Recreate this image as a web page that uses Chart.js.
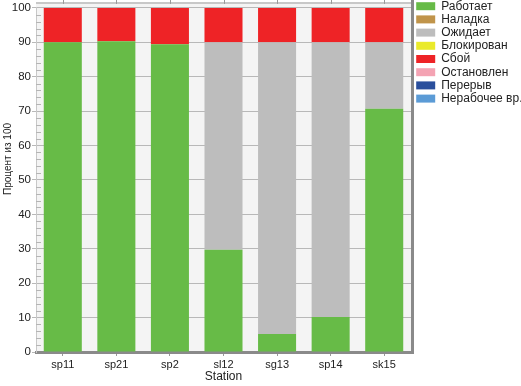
<!DOCTYPE html>
<html>
<head>
<meta charset="utf-8">
<script src="https://cdn.jsdelivr.net/npm/chart.js@4.4.0/dist/chart.umd.min.js"></script>
<style>
  html, body { margin: 0; padding: 0; background: #fff; }
</style>
</head>
<body>
<canvas id="chart_Station" width="521" height="386"></canvas>
<script>
var stations = ["sp11", "sp21", "sp2", "sl12", "sg13", "sp14", "sk15"];
var stateNames = ["Работает", "Наладка", "Ожидает", "Блокирован", "Сбой", "Остановлен", "Перерыв", "Нерабочее вр."];
var stateColors = ["#67bb47", "#c0944a", "#bdbdbd", "#eaea2a", "#ee2326", "#f4a3b3", "#2a4f9c", "#5b9bd6"];

var works   = [90, 90.3, 89.4, 29.7, 5.2, 10.2, 70.7];
var setups  = [0, 0, 0, 0, 0, 0, 0];
var waits   = [0, 0, 0, 60.3, 84.8, 79.8, 19.3];
var blocked = [0, 0, 0, 0, 0, 0, 0];
var fails   = [10, 9.7, 10.6, 10, 10, 10, 10];
var stopped = [0, 0, 0, 0, 0, 0, 0];
var breaks  = [0, 0, 0, 0, 0, 0, 0];
var offTime = [0, 0, 0, 0, 0, 0, 0];

var yTicks = [0, 10, 20, 30, 40, 50, 60, 70, 80, 90, 100];
var yTitle = "Процент из 100";

var seriesValues = [works, setups, waits, blocked, fails, stopped, breaks, offTime];
var fontFam = 'Liberation Sans, Arial, sans-serif';

function buildDatasets() {
  var result = [];
  for (var i = 0; i < stateNames.length; i++) {
    result.push({
      label: stateNames[i],
      data: seriesValues[i],
      backgroundColor: stateColors[i],
      borderWidth: 0,
      barPercentage: 0.71,
      categoryPercentage: 1.0
    });
  }
  return result;
}

// фон, мелкие деления, рамка и подпись оси Y как в оригинале
var framePlugin = {
  id: 'frame',
  beforeInit: function (chart) {
    var legend = chart.legend;
    var origFit = legend.fit;
    legend.fit = function () {
      origFit.call(this);
      this.width = 110;
      this.minSize = { width: 110, height: this.height };
    };
  },
  afterLayout: function (chart) {
    chart.legend.left = 415;
    chart.legend.top = -1;
  },
  beforeDraw: function (chart) {
    var ctx = chart.ctx, a = chart.chartArea;
    ctx.save();
    ctx.fillStyle = '#f4f4f4';
    ctx.fillRect(a.left, a.top - 5, a.right - a.left, a.bottom - a.top + 5);
    ctx.restore();
  },
  afterDraw: function (chart) {
    var ctx = chart.ctx, a = chart.chartArea;
    var y = chart.scales.y, x = chart.scales.x;
    ctx.save();
    // мелкие деления
    ctx.strokeStyle = '#b5b5b5';
    ctx.lineWidth = 1;
    for (var v = 2; v < 100; v += 2) {
      if (v % 10 == 0) continue;
      var py = Math.round(y.getPixelForValue(v)) + 0.5;
      ctx.beginPath();
      ctx.moveTo(a.left, py);
      ctx.lineTo(a.left + 5, py);
      ctx.stroke();
    }
    // верхняя линия
    ctx.strokeStyle = '#c8c8c8';
    ctx.lineWidth = 2;
    ctx.beginPath();
    ctx.moveTo(a.left, a.top - 5);
    ctx.lineTo(a.right, a.top - 5);
    ctx.stroke();
    ctx.lineWidth = 1;
    ctx.strokeStyle = '#999';
    for (var i = 0; i < stations.length; i++) {
      var px = Math.round(x.getPixelForValue(i)) + 0.5;
      ctx.beginPath();
      ctx.moveTo(px, 0);
      ctx.lineTo(px, a.top - 4);
      ctx.stroke();
    }
    // правая граница
    ctx.strokeStyle = '#8a8a8a';
    ctx.lineWidth = 3;
    ctx.beginPath();
    ctx.moveTo(a.right + 1.5, 0);
    ctx.lineTo(a.right + 1.5, a.bottom + 2);
    ctx.stroke();
    // подпись оси Y
    ctx.translate(8, 159);
    ctx.rotate(-Math.PI / 2);
    ctx.fillStyle = '#222';
    ctx.font = '10px ' + fontFam;
    ctx.textAlign = 'center';
    ctx.textBaseline = 'middle';
    ctx.fillText(yTitle, 0, 0);
    ctx.restore();
  }
};

new Chart(document.getElementById("chart_Station"), {
  type: 'bar',
  data: {
    labels: stations,
    datasets: buildDatasets()
  },
  plugins: [framePlugin],
  options: {
    responsive: false,
    devicePixelRatio: 1,
    animation: false,
    layout: { padding: { top: 7, bottom: 2, left: 0, right: 0 } },
    plugins: {
      tooltip: { enabled: false },
      legend: {
        position: 'right',
        align: 'start',
        labels: {
          boxWidth: 19,
          boxHeight: 8,
          padding: 1.2,
          color: '#222',
          font: { family: fontFam, size: 12 }
        }
      }
    },
    scales: {
      x: {
        stacked: true,
        offset: true,
        afterFit: function (axis) { axis.height = 32; },
        grid: { offset: false, drawOnChartArea: false, drawTicks: true, tickLength: 4, color: '#999' },
        border: { color: '#8a8a8a', width: 3 },
        ticks: { color: '#222', padding: 2, font: { family: fontFam, size: 11 } },
        title: { display: true, text: 'Station', color: '#222', padding: 0, font: { family: fontFam, size: 12 } }
      },
      y: {
        stacked: true,
        min: 0,
        max: 100,
        afterFit: function (axis) { axis.width = 36; },
        afterBuildTicks: function (axis) {
          axis.ticks = yTicks.map(function (v) { return { value: v }; });
        },
        grid: { color: '#b8b8b8', tickLength: 4 },
        border: { color: '#c8c8c8' },
        ticks: { color: '#222', padding: 1, font: { family: fontFam, size: 11.5 } },
        title: { display: false }
      }
    }
  }
});
</script>
</body>
</html>
